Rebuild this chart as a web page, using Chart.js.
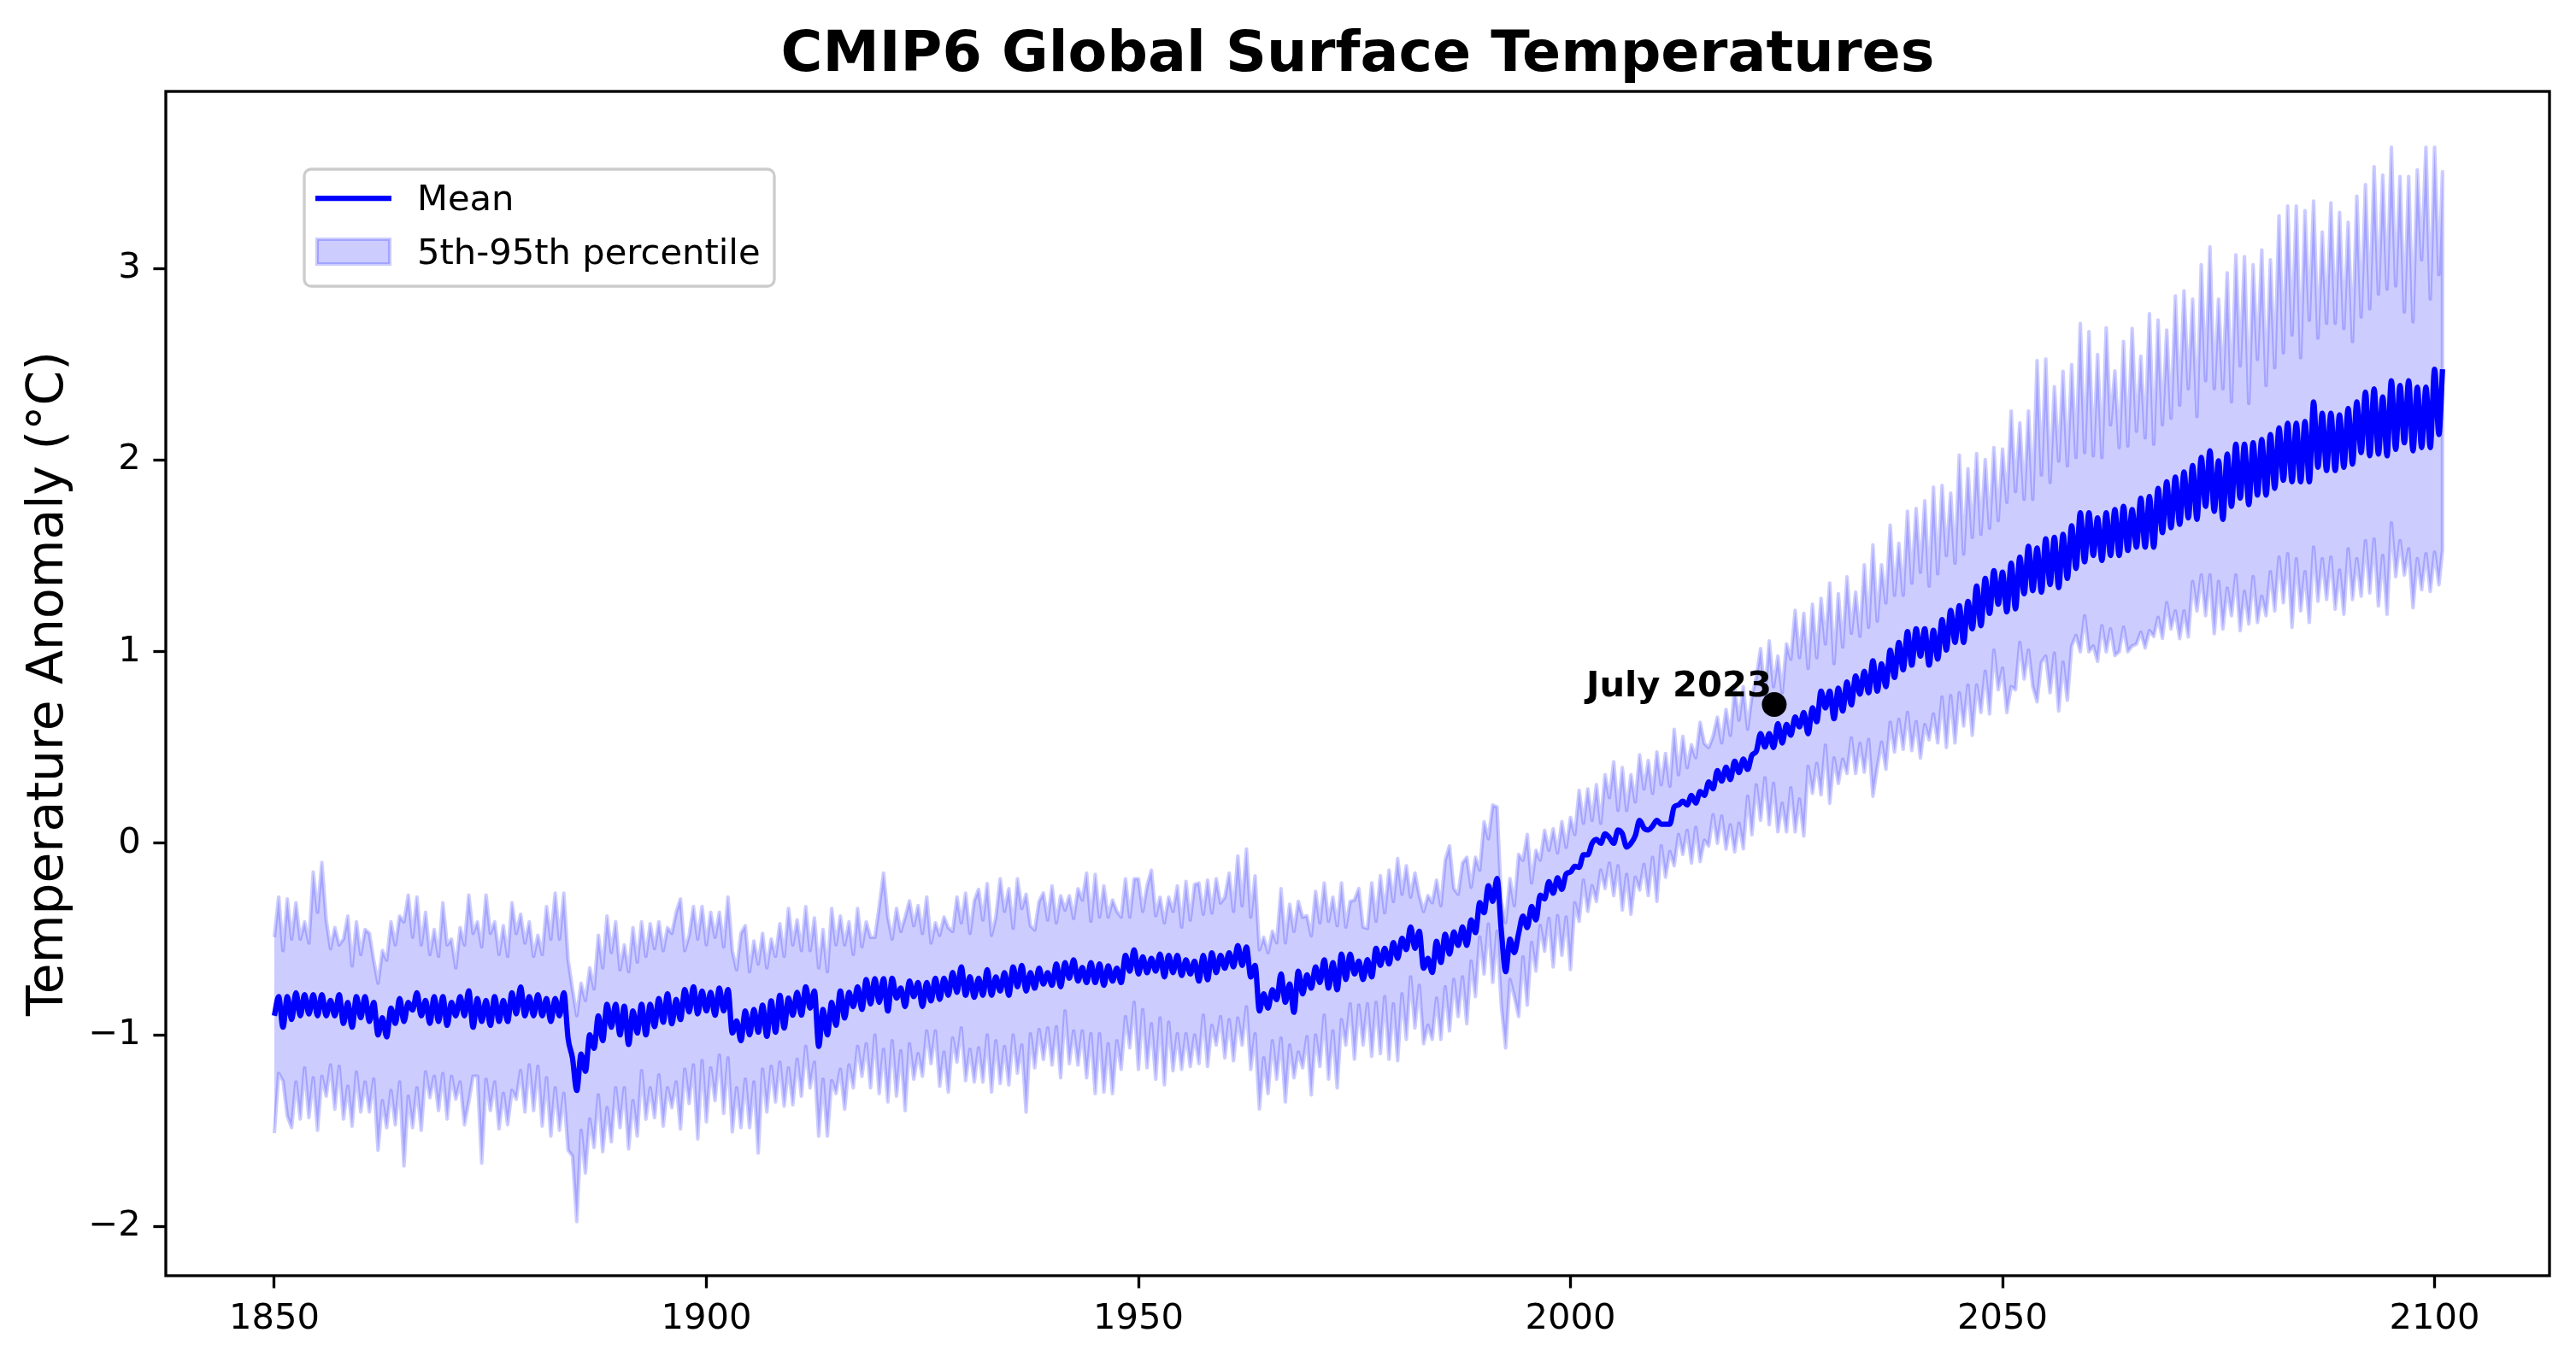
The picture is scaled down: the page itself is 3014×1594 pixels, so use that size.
<!DOCTYPE html>
<html>
<head>
<meta charset="utf-8">
<title>CMIP6 Global Surface Temperatures</title>
<script src="https://cdn.jsdelivr.net/npm/chart.js@4/dist/chart.umd.min.js"></script>
<style>
  html, body { margin: 0; padding: 0; background: #fff; }
  canvas { display: block; }
</style>
</head>
<body>
<canvas id="tempChart" width="3014" height="1594" style="width:3014px;height:1594px"></canvas>
<script>
// Values, one row per decade, two values per year
const meanValues = [
  -0.90,-0.80,-0.96,-0.80,-0.92,-0.78,-0.90,-0.79,-0.89,-0.79,-0.90,-0.79,-0.90,-0.82,-0.90,-0.79,-0.94,-0.83,-0.96,-0.80,
  -0.91,-0.80,-0.93,-0.83,-1.00,-0.91,-1.01,-0.86,-0.94,-0.81,-0.93,-0.83,-0.87,-0.78,-0.90,-0.82,-0.94,-0.80,-0.93,-0.80,
  -0.95,-0.83,-0.90,-0.80,-0.90,-0.77,-0.96,-0.81,-0.93,-0.82,-0.95,-0.80,-0.93,-0.82,-0.93,-0.78,-0.89,-0.75,-0.90,-0.80,
  -0.90,-0.79,-0.90,-0.81,-0.93,-0.81,-0.90,-0.78,-1.02,-1.12,-1.29,-1.10,-1.19,-1.00,-1.07,-0.90,-1.03,-0.84,-0.96,-0.84,
  -1.00,-0.85,-1.05,-0.875,-0.99,-0.84,-1.00,-0.84,-0.957,-0.81,-0.934,-0.786,-0.942,-0.815,-0.92,-0.763,-0.88,-0.749,-0.89,-0.771,
  -0.875,-0.778,-0.897,-0.756,-0.875,-0.763,-0.99,-0.927,-1.03,-0.875,-1.00,-0.867,-0.986,-0.845,-1.008,-0.823,-0.986,-0.793,-0.964,-0.808,
  -0.897,-0.778,-0.897,-0.749,-0.86,-0.771,-1.06,-0.867,-1.00,-0.83,-0.95,-0.771,-0.912,-0.778,-0.852,-0.749,-0.867,-0.711,-0.838,-0.707,
  -0.83,-0.707,-0.875,-0.704,-0.808,-0.756,-0.852,-0.719,-0.80,-0.726,-0.852,-0.726,-0.823,-0.704,-0.815,-0.704,-0.793,-0.674,-0.778,-0.645,
  -0.793,-0.696,-0.804,-0.704,-0.793,-0.66,-0.793,-0.697,-0.771,-0.675,-0.793,-0.645,-0.749,-0.637,-0.771,-0.675,-0.756,-0.652,-0.734,-0.675,
  -0.741,-0.63,-0.749,-0.623,-0.704,-0.608,-0.719,-0.649,-0.727,-0.623,-0.727,-0.63,-0.741,-0.64,-0.719,-0.652,-0.727,-0.585,-0.667,-0.556,
  -0.682,-0.593,-0.675,-0.60,-0.667,-0.578,-0.697,-0.585,-0.675,-0.585,-0.69,-0.608,-0.682,-0.615,-0.719,-0.585,-0.712,-0.571,-0.675,-0.585,
  -0.652,-0.571,-0.645,-0.534,-0.637,-0.541,-0.697,-0.637,-0.875,-0.786,-0.86,-0.764,-0.816,-0.682,-0.83,-0.734,-0.882,-0.667,-0.786,-0.686,
  -0.756,-0.645,-0.727,-0.608,-0.756,-0.623,-0.764,-0.578,-0.711,-0.578,-0.682,-0.615,-0.711,-0.607,-0.697,-0.548,-0.637,-0.548,-0.63,-0.518,
  -0.60,-0.496,-0.555,-0.437,-0.548,-0.459,-0.652,-0.60,-0.674,-0.511,-0.622,-0.474,-0.578,-0.462,-0.533,-0.437,-0.533,-0.40,-0.466,-0.31,
  -0.362,-0.221,-0.303,-0.184,-0.459,-0.67,-0.50,-0.57,-0.47,-0.38,-0.44,-0.33,-0.40,-0.27,-0.29,-0.20,-0.26,-0.18,-0.24,-0.16,
  -0.15,-0.12,-0.125,-0.06,-0.06,0.00,0.02,0.00,0.05,0.03,0.00,0.07,0.05,-0.02,0.00,0.04,0.12,0.08,0.07,0.09,
  0.12,0.10,0.10,0.10,0.19,0.20,0.22,0.20,0.25,0.21,0.27,0.25,0.32,0.285,0.38,0.325,0.397,0.333,0.429,0.37,
  0.44,0.386,0.46,0.48,0.572,0.503,0.572,0.50,0.625,0.524,0.62,0.565,0.659,0.608,0.683,0.572,0.707,0.635,0.794,0.707,
  0.794,0.651,0.81,0.691,0.842,0.723,0.874,0.779,0.898,0.786,0.953,0.794,0.937,0.818,1.009,0.866,1.049,0.906,1.105,0.93,
  1.12,0.977,1.12,0.93,1.112,0.962,1.168,1.009,1.216,1.049,1.24,1.049,1.263,1.12,1.343,1.136,1.383,1.20,1.423,1.248,
  1.415,1.208,1.462,1.224,1.494,1.303,1.55,1.319,1.542,1.311,1.59,1.351,1.597,1.335,1.613,1.383,1.657,1.435,1.725,1.469,
  1.725,1.503,1.699,1.477,1.725,1.503,1.742,1.503,1.759,1.529,1.742,1.546,1.801,1.546,1.81,1.546,1.853,1.622,1.887,1.648,
  1.912,1.665,1.938,1.699,1.972,1.691,2.014,1.759,2.049,1.733,1.997,1.691,2.032,1.759,2.083,1.801,2.083,1.768,2.091,1.818,
  2.108,1.818,2.134,1.853,2.168,1.895,2.193,1.887,2.193,1.887,2.202,1.887,2.304,1.963,2.245,1.946,2.245,1.946,2.236,1.963,
  2.27,1.98,2.304,2.04,2.355,2.023,2.372,2.032,2.33,2.023,2.415,2.057,2.39,2.091,2.415,2.049,2.381,2.066,2.381,2.066,
  2.475,2.134,2.475
];

const upperValues = [
  -0.49,-0.28,-0.56,-0.29,-0.50,-0.31,-0.50,-0.41,-0.52,-0.15,-0.36,-0.10,-0.40,-0.55,-0.44,-0.53,-0.50,-0.38,-0.64,-0.41,
  -0.58,-0.45,-0.47,-0.61,-0.73,-0.56,-0.61,-0.41,-0.53,-0.38,-0.41,-0.27,-0.49,-0.28,-0.53,-0.36,-0.58,-0.45,-0.59,-0.31,
  -0.53,-0.50,-0.65,-0.44,-0.53,-0.27,-0.47,-0.41,-0.54,-0.27,-0.47,-0.41,-0.58,-0.43,-0.59,-0.31,-0.47,-0.37,-0.52,-0.41,
  -0.59,-0.48,-0.58,-0.33,-0.50,-0.26,-0.50,-0.26,-0.61,-0.76,-0.90,-0.73,-0.82,-0.65,-0.76,-0.48,-0.65,-0.38,-0.57,-0.41,
  -0.66,-0.53,-0.67,-0.44,-0.62,-0.41,-0.59,-0.42,-0.55,-0.41,-0.56,-0.44,-0.47,-0.36,-0.29,-0.56,-0.48,-0.33,-0.50,-0.33,
  -0.53,-0.36,-0.49,-0.36,-0.54,-0.28,-0.56,-0.66,-0.47,-0.43,-0.67,-0.51,-0.63,-0.47,-0.65,-0.50,-0.59,-0.42,-0.59,-0.34,
  -0.53,-0.40,-0.56,-0.33,-0.56,-0.39,-0.65,-0.45,-0.67,-0.34,-0.53,-0.38,-0.53,-0.41,-0.58,-0.34,-0.54,-0.41,-0.49,-0.49,
  -0.33,-0.155,-0.385,-0.50,-0.34,-0.46,-0.385,-0.30,-0.43,-0.325,-0.47,-0.28,-0.52,-0.415,-0.48,-0.385,-0.44,-0.46,-0.28,-0.415,
  -0.26,-0.47,-0.30,-0.24,-0.40,-0.21,-0.48,-0.385,-0.185,-0.355,-0.237,-0.444,-0.185,-0.34,-0.266,-0.43,-0.452,-0.303,-0.259,-0.40,
  -0.222,-0.415,-0.274,-0.348,-0.274,-0.392,-0.237,-0.296,-0.155,-0.407,-0.162,-0.385,-0.222,-0.385,-0.296,-0.355,-0.385,-0.185,-0.385,-0.185,
  -0.185,-0.355,-0.222,-0.14,-0.378,-0.281,-0.415,-0.281,-0.355,-0.222,-0.437,-0.199,-0.40,-0.214,-0.207,-0.37,-0.192,-0.363,-0.185,-0.311,
  -0.281,-0.155,-0.355,-0.066,-0.326,-0.029,-0.385,-0.17,-0.556,-0.49,-0.571,-0.459,-0.519,-0.237,-0.519,-0.318,-0.459,-0.303,-0.385,-0.378,
  -0.482,-0.251,-0.415,-0.207,-0.407,-0.281,-0.43,-0.207,-0.437,-0.303,-0.296,-0.236,-0.437,-0.444,-0.207,-0.407,-0.169,-0.362,-0.14,-0.303,
  -0.08,-0.266,-0.117,-0.281,-0.155,-0.273,-0.355,-0.273,-0.31,-0.192,-0.325,-0.088,-0.013,-0.236,-0.266,-0.103,-0.073,-0.229,-0.073,-0.14,
  0.113,0.024,0.20,0.19,-0.303,-0.414,-0.184,-0.325,-0.058,-0.088,0.046,-0.207,-0.036,-0.088,0.068,-0.036,0.076,-0.05,0.113,-0.021,
  0.135,0.046,0.276,0.105,0.284,0.12,0.306,0.105,0.358,0.239,0.425,0.172,0.395,0.172,0.358,0.217,0.462,0.284,0.432,0.261,
  0.477,0.306,0.469,0.298,0.595,0.358,0.558,0.395,0.514,0.447,0.632,0.521,0.50,0.56,0.659,0.524,0.699,0.564,0.81,0.643,
  0.818,0.596,0.771,0.866,1.017,0.771,1.057,0.818,0.977,0.786,1.041,0.961,1.216,0.969,1.20,0.914,1.248,0.969,1.279,1.041,
  1.359,0.938,1.303,1.025,1.391,1.096,1.311,1.081,1.454,1.128,1.558,1.16,1.454,1.255,1.661,1.295,1.566,1.295,1.733,1.359,
  1.748,1.415,1.788,1.343,1.86,1.407,1.868,1.502,1.828,1.462,2.027,1.51,1.955,1.597,2.035,1.613,2.003,1.645,2.066,1.685,
  2.058,1.78,2.257,1.836,2.194,1.796,2.257,1.796,2.52,1.923,2.528,1.884,2.384,1.995,2.464,1.971,2.50,2.014,2.714,2.04,
  2.671,2.023,2.552,2.014,2.691,2.185,2.466,2.066,2.62,2.074,2.688,2.151,2.543,2.117,2.765,2.083,2.731,2.185,2.679,2.219,
  2.858,2.287,2.884,2.373,2.841,2.228,3.02,2.415,3.114,2.373,2.841,2.373,2.978,2.304,3.072,2.492,3.063,2.296,3.02,2.526,
  3.097,2.39,3.046,2.483,3.276,2.56,3.327,2.654,3.327,2.535,3.302,2.731,3.353,2.637,3.191,2.714,3.344,2.714,3.293,2.688,
  3.242,2.62,3.378,2.748,3.438,2.79,3.532,2.867,3.489,2.893,3.634,2.91,3.481,2.773,3.481,2.722,3.515,3.046,3.634,2.841,
  3.634,2.969,3.506
];

const lowerValues = [
  -1.513,-1.201,-1.24,-1.424,-1.484,-1.246,-1.439,-1.172,-1.432,-1.224,-1.498,-1.216,-1.32,-1.157,-1.387,-1.164,-1.439,-1.268,-1.476,-1.194,
  -1.402,-1.246,-1.402,-1.231,-1.602,-1.343,-1.484,-1.29,-1.469,-1.246,-1.684,-1.32,-1.484,-1.276,-1.498,-1.194,-1.328,-1.216,-1.395,-1.201,
  -1.439,-1.216,-1.335,-1.246,-1.469,-1.35,-1.216,-1.216,-1.669,-1.231,-1.395,-1.246,-1.491,-1.305,-1.469,-1.29,-1.335,-1.186,-1.402,-1.157,
  -1.395,-1.164,-1.476,-1.224,-1.528,-1.276,-1.498,-1.305,-1.602,-1.632,-1.974,-1.498,-1.721,-1.439,-1.588,-1.313,-1.61,-1.38,-1.558,-1.276,
  -1.484,-1.276,-1.595,-1.343,-1.528,-1.187,-1.44,-1.276,-1.432,-1.209,-1.476,-1.276,-1.38,-1.246,-1.491,-1.179,-1.358,-1.157,-1.543,-1.135,
  -1.454,-1.172,-1.343,-1.105,-1.41,-1.12,-1.506,-1.276,-1.484,-1.231,-1.484,-1.246,-1.617,-1.179,-1.402,-1.164,-1.35,-1.142,-1.372,-1.172,
  -1.365,-1.127,-1.32,-1.06,-1.276,-1.142,-1.528,-1.231,-1.528,-1.239,-1.306,-1.179,-1.387,-1.157,-1.276,-1.06,-1.216,-1.046,-1.276,-1.001,
  -1.306,-1.075,-1.35,-1.031,-1.32,-1.083,-1.395,-1.046,-1.231,-1.098,-1.216,-0.979,-1.15,-0.979,-1.268,-1.09,-1.298,-1.016,-1.142,-0.964,
  -1.239,-1.075,-1.246,-1.068,-1.246,-1.001,-1.298,-1.031,-1.254,-1.061,-1.261,-1.001,-1.20,-1.053,-1.402,-0.994,-1.172,-0.972,-1.128,-0.964,
  -1.157,-0.957,-1.224,-0.875,-1.15,-0.979,-1.157,-0.979,-1.224,-0.994,-1.306,-0.994,-1.298,-1.046,-1.306,-1.031,-1.18,-0.905,-1.068,-0.83,
  -1.18,-0.868,-1.172,-0.942,-1.231,-0.912,-1.261,-0.934,-1.187,-0.994,-1.18,-0.994,-1.165,-1.001,-1.15,-0.897,-1.165,-0.95,-1.053,-0.905,
  -1.12,-0.92,-1.135,-0.912,-1.053,-0.853,-1.18,-0.994,-1.387,-1.12,-1.306,-1.031,-1.231,-1.016,-1.35,-1.053,-1.224,-1.09,-1.172,-1.009,
  -1.313,-1.001,-1.165,-0.897,-1.231,-0.979,-1.276,-0.92,-1.053,-0.838,-1.127,-0.845,-1.053,-0.838,-1.112,-0.83,-1.098,-0.80,-1.127,-0.838,
  -1.135,-0.786,-1.023,-0.697,-0.964,-0.741,-1.046,-0.949,-1.023,-0.808,-1.023,-0.749,-0.979,-0.711,-0.904,-0.697,-0.942,-0.615,-0.80,-0.489,
  -0.682,-0.422,-0.726,-0.459,-0.852,-1.068,-0.711,-0.80,-0.904,-0.593,-0.845,-0.518,-0.667,-0.429,-0.563,-0.392,-0.645,-0.377,-0.585,-0.385,
  -0.659,-0.31,-0.407,-0.192,-0.355,-0.221,-0.303,-0.14,-0.236,-0.103,-0.273,-0.117,-0.348,-0.162,-0.37,-0.177,-0.244,-0.11,-0.273,-0.073,
  -0.303,-0.013,-0.177,-0.043,-0.117,0.046,-0.058,0.068,-0.103,0.083,-0.095,0.016,-0.014,0.149,0.00,0.142,-0.03,0.097,-0.044,0.105,
  -0.029,0.246,0.045,0.305,0.12,0.342,0.097,0.313,0.06,0.209,0.06,0.29,0.06,0.231,0.038,0.402,0.261,0.417,0.253,0.513,
  0.209,0.446,0.313,0.439,0.365,0.55,0.365,0.521,0.372,0.543,0.246,0.394,0.528,0.387,0.632,0.476,0.647,0.491,0.683,0.484,
  0.635,0.445,0.62,0.54,0.675,0.524,0.763,0.50,0.771,0.524,0.786,0.612,0.826,0.564,0.826,0.683,0.898,0.675,1.009,0.802,
  0.914,0.683,0.818,0.802,1.049,0.858,1.009,0.818,0.739,0.945,0.977,0.786,0.993,0.691,0.945,0.747,1.03,1.085,1.00,1.188,
  1.00,1.03,0.95,1.136,1.00,1.119,0.98,1.00,1.128,1.00,1.03,1.04,1.102,1.02,1.11,1.08,1.179,1.07,1.256,1.119,
  1.213,1.068,1.213,1.077,1.367,1.213,1.401,1.188,1.401,1.094,1.367,1.119,1.332,1.188,1.401,1.11,1.315,1.145,1.392,1.153,
  1.29,1.188,1.418,1.213,1.494,1.256,1.512,1.128,1.486,1.213,1.418,1.153,1.546,1.264,1.486,1.273,1.494,1.222,1.426,1.196,
  1.537,1.273,1.486,1.29,1.58,1.307,1.588,1.239,1.503,1.196,1.673,1.392,1.58,1.401,1.537,1.23,1.486,1.324,1.512,1.315,
  1.52,1.35,1.53
];

const xTicks = [1850, 1900, 1950, 2000, 2050, 2100];
const yTicks = [-2, -1, 0, 1, 2, 3];
const markerYear = 2023.58;
const markerValue = 0.725;
const markerLabel = 'July 2023';
const titleText = 'CMIP6 Global Surface Temperatures';
const yAxisText = 'Temperature Anomaly (°C)';
const meanLabel = 'Mean';
const bandLabel = '5th-95th percentile';

const BAND = 'rgba(0, 0, 255, 0.2)';
const FONT = '"DejaVu Sans", sans-serif';

// half-yearly points, the last one stops at December 2100
const years = meanValues.map((_, i) => Math.min(1850 + i / 2, 2100.92));
const meanPoints = meanValues.map((v, i) => ({ x: years[i], y: v }));
const lowerPoints = lowerValues.map((v, i) => ({ x: years[i], y: v }));
const upperPoints = upperValues.map((v, i) => ({ x: years[i], y: v }));
// the band is one closed outline: along the bottom, back along the top
const bandPoints = lowerPoints.concat(upperPoints.slice().reverse());

// 1. Frame, legend and marker label
const extras = {
  id: 'extras',
  afterDatasetsDraw(chart) {
    const { ctx, chartArea: a, scales } = chart;
    ctx.save();

    const px = scales.x.getPixelForValue(markerYear);
    const py = scales.y.getPixelForValue(markerValue);
    ctx.fillStyle = '#000';
    ctx.font = 'bold 41.67px ' + FONT;
    ctx.textAlign = 'right';
    ctx.textBaseline = 'alphabetic';
    ctx.fillText(markerLabel, px - 3, py - 9);

    // legend box
    ctx.beginPath();
    ctx.roundRect(356, 198, 550, 137, 8);
    ctx.fillStyle = 'rgba(255,255,255,0.8)';
    ctx.fill();
    ctx.strokeStyle = '#cccccc';
    ctx.lineWidth = 3.33;
    ctx.stroke();

    ctx.strokeStyle = '#0000ff';
    ctx.lineWidth = 6.25;
    ctx.beginPath();
    ctx.moveTo(369, 232);
    ctx.lineTo(458, 232);
    ctx.stroke();

    ctx.fillStyle = BAND;
    ctx.strokeStyle = BAND;
    ctx.lineWidth = 4.17;
    ctx.beginPath();
    ctx.rect(371, 280, 85, 29);
    ctx.fill();
    ctx.stroke();

    ctx.fillStyle = '#000';
    ctx.font = '41.67px ' + FONT;
    ctx.textAlign = 'left';
    ctx.fillText(meanLabel, 488, 246);
    ctx.fillText(bandLabel, 488, 309);

    // spines
    ctx.strokeStyle = '#000';
    ctx.lineWidth = 3.33;
    ctx.strokeRect(a.left, a.top, a.right - a.left, a.bottom - a.top);
    ctx.restore();
  }
};

// 2. Chart
const tempChart = new Chart(document.getElementById('tempChart').getContext('2d'), {
  type: 'scatter',
  data: {
    datasets: [
      {
        label: markerLabel,
        data: [{ x: markerYear, y: markerValue }],
        order: 0,
        pointRadius: 14.5,
        pointBackgroundColor: '#000',
        pointBorderWidth: 0,
        showLine: false
      },
      {
        label: meanLabel,
        data: meanPoints,
        order: 1,
        showLine: true,
        borderColor: '#0000ff',
        borderWidth: 6.25,
        borderJoinStyle: 'round',
        cubicInterpolationMode: 'monotone',
        pointRadius: 0
      },
      {
        label: bandLabel,
        data: bandPoints,
        order: 2,
        showLine: true,
        fill: 'shape',
        backgroundColor: BAND,
        borderColor: BAND,
        borderWidth: 4.17,
        borderJoinStyle: 'round',
        pointRadius: 0
      }
    ]
  },
  options: {
    responsive: false,
    animation: false,
    events: [],
    devicePixelRatio: 1,
    layout: { padding: { left: 0, top: 0, right: 31, bottom: 0 } },
    plugins: {
      legend: { display: false },
      tooltip: { enabled: false },
      title: {
        display: true,
        text: titleText,
        fullSize: false,
        color: '#000',
        font: { family: FONT, size: 66.67, weight: 'bold', lineHeight: 1.2 },
        padding: { top: 25.4, bottom: 1.6 }
      }
    },
    scales: {
      x: {
        type: 'linear',
        min: 1837.44,
        max: 2113.3,
        afterFit(scale) { scale.height = 101; },
        afterBuildTicks(scale) { scale.ticks = xTicks.map(v => ({ value: v })); },
        border: { display: false },
        grid: { drawOnChartArea: false, drawTicks: true, tickLength: 14.6, tickWidth: 3.33, tickColor: '#000' },
        ticks: {
          color: '#000',
          padding: 11.6,
          maxRotation: 0,
          autoSkip: false,
          font: { family: FONT, size: 41.67 },
          callback: v => String(v)
        }
      },
      y: {
        type: 'linear',
        min: -2.257,
        max: 3.925,
        afterFit(scale) { scale.width = 194; },
        afterBuildTicks(scale) { scale.ticks = yTicks.map(v => ({ value: v })); },
        border: { display: false },
        grid: { drawOnChartArea: false, drawTicks: true, tickLength: 14.6, tickWidth: 3.33, tickColor: '#000' },
        title: {
          display: true,
          text: yAxisText,
          color: '#000',
          font: { family: FONT, size: 58.33, lineHeight: 1.2 },
          padding: { top: 23, bottom: 0 }
        },
        ticks: {
          color: '#000',
          padding: 14.6,
          autoSkip: false,
          font: { family: FONT, size: 41.67 },
          callback: v => (v < 0 ? '\u2212' + Math.abs(v) : String(v))
        }
      }
    }
  },
  plugins: [extras]
});
</script>
</body>
</html>
